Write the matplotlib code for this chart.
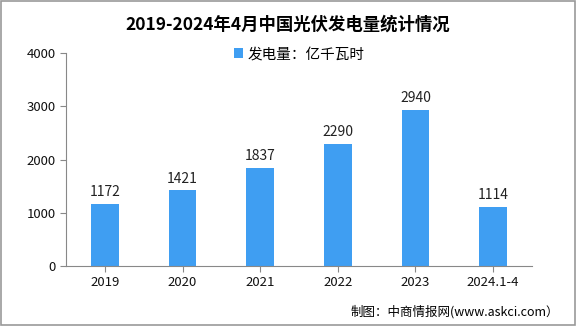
import matplotlib.pyplot as plt
from matplotlib.patches import Rectangle

plt.rcParams['font.family'] = ['Noto Sans CJK SC', 'DejaVu Sans']

years = ['2019', '2020', '2021', '2022', '2023', '2024.1-4']
output = [1172, 1421, 1837, 2290, 2940, 1114]

fig = plt.figure(figsize=(5.76, 3.26), dpi=100)
ax = fig.add_axes([0.1146, 0.184, 0.8090, 0.653])

x = range(len(years))
ax.bar(x, output, width=0.36, color='#3f9ef2', label='发电量：亿千瓦时')
for i, v in zip(x, output):
    ax.text(i, v + 90, str(v), ha='center', va='bottom', fontsize=10, color='#222222')

ax.set_xlim(-0.5, len(years) - 0.5)
ax.set_ylim(0, 4000)
ax.set_yticks([0, 1000, 2000, 3000, 4000])
ax.set_xticks(list(x))
ax.set_xticklabels(years)
ax.tick_params(axis='both', labelsize=9.5, colors='#888888', labelcolor='#111111', length=4)
for s in ['top', 'right']:
    ax.spines[s].set_visible(False)
for s in ['left', 'bottom']:
    ax.spines[s].set_color('#888888')

ax.legend(loc='upper center', bbox_to_anchor=(0.5, 1.09), frameon=False, fontsize=10.5,
          handlelength=0.6, handleheight=0.6, handletextpad=0.3)

fig.text(0.5, 0.925, '2019-2024年4月中国光伏发电量统计情况', ha='center', va='center',
         fontsize=12.5, fontweight='bold')
fig.text(0.97, 0.045, '制图：中商情报网(www.askci.com）', ha='right', va='center', fontsize=9)

fig.add_artist(Rectangle((0.001, 0.002), 0.997, 0.995, transform=fig.transFigure,
                         fill=False, edgecolor='#999999', linewidth=1.2))

fig.savefig('out.png', dpi=100)
